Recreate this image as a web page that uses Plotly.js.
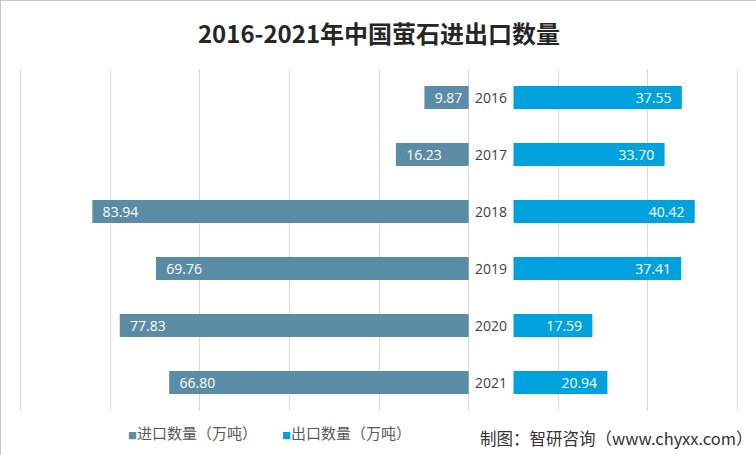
<!DOCTYPE html>
<html><head><meta charset="utf-8">
<script src="https://cdn.plot.ly/plotly-3.0.1.min.js"></script>
<style>html,body{margin:0;padding:0;background:#fff}#c{width:756px;height:455px;box-sizing:border-box;border:1px solid #c8c8c8}</style>
</head><body><div id="c"></div>
<script>
var years = ['2016','2017','2018','2019','2020','2021'];
var importQty = [9.87, 16.23, 83.94, 69.76, 77.83, 66.80];
var exportQty = [37.55, 33.70, 40.42, 37.41, 17.59, 20.94];
var seriesNames = ['进口数量（万吨）', '出口数量（万吨）'];
var colors = ['#5b8ca5', '#00a2dd'];
var gap = 10;
var pad = '\u00a0\u00a0';
var cjk = '"Noto Sans CJK SC", "Open Sans", sans-serif';
var num = '"Open Sans", "Noto Sans", sans-serif';

var left = {
  type: 'bar', orientation: 'h', name: seriesNames[0], showlegend: false,
  y: years, x: importQty.map(function(v){return -v;}),
  marker: {color: colors[0]},
  text: importQty.map(function(v){return pad + v.toFixed(2);}),
  textposition: 'inside', insidetextanchor: 'end',
  textfont: {color: '#ffffff', size: 14, family: num},
  hoverinfo: 'skip', width: 0.4
};
var right = {
  type: 'bar', orientation: 'h', name: seriesNames[1], showlegend: false,
  y: years, x: exportQty, base: gap,
  marker: {color: colors[1]},
  text: exportQty.map(function(v){return v.toFixed(2) + pad;}),
  textposition: 'inside', insidetextanchor: 'end',
  textfont: {color: '#ffffff', size: 14, family: num},
  hoverinfo: 'skip', width: 0.4
};
var ann = years.map(function(y){
  return {x: gap/2, y: y, xref: 'x', yref: 'y', text: y, showarrow: false,
    font: {size: 14, color: '#404040', family: num}};
});
// legend entries
var legX = [0.148, 0.362];
seriesNames.forEach(function(n, i){
  ann.push({xref: 'paper', yref: 'paper', x: legX[i], y: -0.062, xanchor: 'left', yanchor: 'middle', showarrow: false,
    text: '<span style="color:' + colors[i] + ';font-size:9px">■</span>' + n,
    font: {size: 15, color: '#595959', family: cjk}});
});
ann.push({xref: 'paper', yref: 'paper', x: 1.022, y: -0.078, xanchor: 'right', yanchor: 'middle',
  text: '制图：智研咨询（www.chyxx.com）', showarrow: false,
  font: {size: 16.5, color: '#333333', family: cjk}});

var layout = {
  width: 756, height: 455,
  margin: {l: 18, r: 18, t: 68, b: 45},
  paper_bgcolor: '#ffffff', plot_bgcolor: '#ffffff',
  title: {text: '<b>2016-2021年中国萤石进出口数量</b>', x: 0.5, xanchor: 'center', y: 0.927, yanchor: 'middle',
    font: {size: 24, color: '#262626', family: cjk}},
  barmode: 'overlay',
  uniformtext: {mode: 'show', minsize: 14},
  xaxis: {range: [-100.3, 60.3], dtick: 20, tick0: 0, showgrid: true, gridcolor: '#d9d9d9', gridwidth: 1,
    zeroline: true, zerolinecolor: '#d9d9d9', zerolinewidth: 1, showticklabels: false, ticks: '', showline: false, fixedrange: true},
  yaxis: {autorange: 'reversed', showticklabels: false, showgrid: false, zeroline: false, ticks: '', showline: false},
  showlegend: false,
  annotations: ann
};
Plotly.newPlot('c', [left, right], layout, {displayModeBar: false, staticPlot: true});
</script></body></html>
